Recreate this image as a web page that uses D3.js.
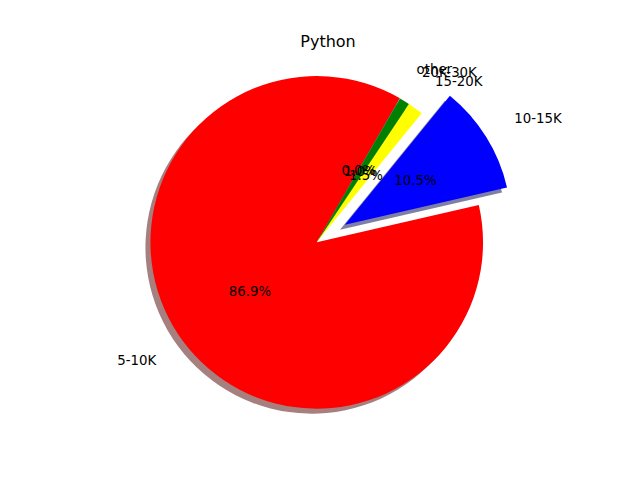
<!DOCTYPE html>
<html>
<head>
<meta charset="utf-8">
<script src="https://cdn.jsdelivr.net/npm/d3@7"></script>
<style>
  html, body { margin: 0; padding: 0; background: #fff; }
  svg { display: block; font-family: "DejaVu Sans", sans-serif; }
</style>
</head>
<body>
<svg id="chart" width="640" height="480"></svg>
<script>
// ---- data ----
const categories = ["5-10K", "10-15K", "15-20K", "20K-30K", "other"];
const values = [86.94, 10.53, 1.52, 1.00, 0.01];
const explodeFrac = [0, 0.2, 0, 0, 0];
const sliceColors = ["#ff0000", "#0000ff", "#ffff00", "#008000", "#00bfbf"];
const title = "Python";

// ---- layout ----
const W = 640, H = 480;
const cx = 316.75, cy = 242.35, R = 166.3;
const startDeg = 60;           // matplotlib startangle, counter-clockwise
const labelDist = 1.2, pctDist = 0.5;
const shadowOff = 5;

const svg = d3.select("#chart");
svg.append("rect").attr("width", W).attr("height", H).attr("fill", "#fff");

const color = d3.scaleOrdinal().domain(categories).range(sliceColors);
const total = d3.sum(values);
const fmt = d3.format(".1f");

const a0 = Math.PI / 2 - startDeg * Math.PI / 180;
const pie = d3.pie().sort(null).value(d => d.v).startAngle(a0).endAngle(a0 - 2 * Math.PI);
const rows = categories.map((c, i) => ({ c, v: values[i], e: explodeFrac[i] }));
const arcs = pie(rows);
const arc = d3.arc().innerRadius(0).outerRadius(R);

function mid(d) { return (d.startAngle + d.endAngle) / 2; }
function dir(d) { const a = mid(d); return [Math.sin(a), -Math.cos(a)]; }
function offset(d) { const u = dir(d); return [u[0] * d.data.e * R, u[1] * d.data.e * R]; }

const g = svg.append("g").attr("transform", `translate(${cx},${cy})`);

// shadows
g.append("g").selectAll("path").data(arcs).join("path")
  .attr("d", arc)
  .attr("transform", d => { const o = offset(d); return `translate(${o[0] - shadowOff},${o[1] + shadowOff})`; })
  .attr("fill", d => { const c = d3.rgb(color(d.data.c)); return d3.rgb(c.r * 0.3, c.g * 0.3, c.b * 0.3).toString(); })
  .attr("fill-opacity", 0.5);

// wedges
g.append("g").selectAll("path").data(arcs).join("path")
  .attr("d", arc)
  .attr("transform", d => { const o = offset(d); return `translate(${o[0]},${o[1]})`; })
  .attr("fill", d => color(d.data.c));

// labels + percentages
const tg = g.append("g").attr("font-size", "13.33px").attr("fill", "#000");
arcs.forEach(d => {
  const u = dir(d), o = offset(d);
  const lx = o[0] + u[0] * R * labelDist, ly = o[1] + u[1] * R * labelDist;
  tg.append("text")
    .attr("x", lx).attr("y", ly).attr("dy", "0.32em")
    .attr("text-anchor", lx > 0 ? "start" : "end")
    .text(d.data.c);
  const px = o[0] + u[0] * R * pctDist, py = o[1] + u[1] * R * pctDist;
  tg.append("text")
    .attr("x", px).attr("y", py).attr("dy", "0.32em")
    .attr("text-anchor", "middle")
    .text(fmt(d.data.v / total * 100) + "%");
});

// title
svg.append("text")
  .attr("x", 328).attr("y", 47)
  .attr("text-anchor", "middle")
  .attr("font-size", "16px")
  .attr("fill", "#000")
  .text(title);
</script>
</body>
</html>
